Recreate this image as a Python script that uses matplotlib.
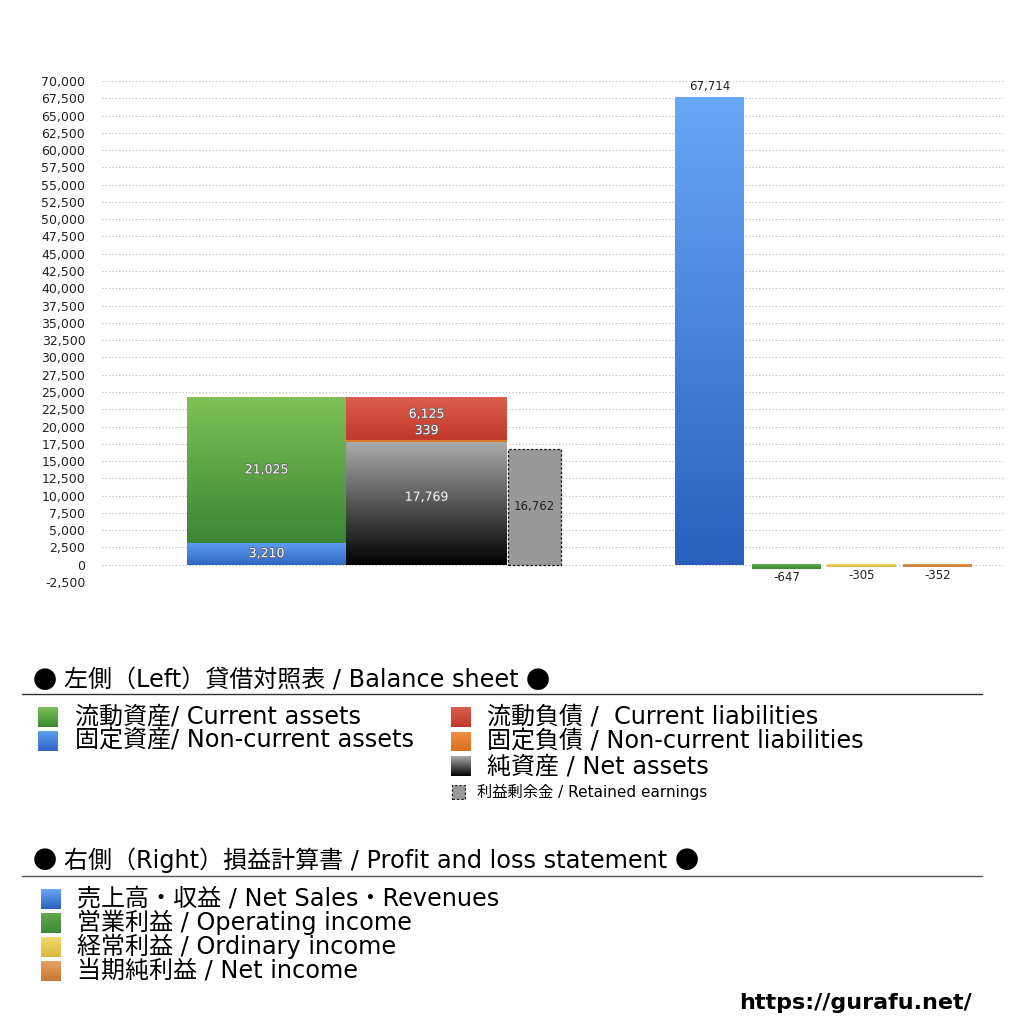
import numpy as np
import matplotlib
matplotlib.use("Agg")
from matplotlib import pyplot as plt
from matplotlib import patheffects as pe
from matplotlib.colors import to_rgb
from matplotlib.patches import Rectangle

plt.rcParams['font.family'] = ['DejaVu Sans', 'Noto Sans CJK JP']

# balance sheet (left)
assets_names = ["流動資産", "固定資産"]
assets_vals = [21025, 3210]
liab_names = ["流動負債", "固定負債", "純資産"]
liab_vals = [6125, 339, 17769]
retained_val = 16762

# profit and loss (right)
pl_names = ["売上高・収益", "営業利益", "経常利益", "当期純利益"]
pl_vals = [67714, -647, -305, -352]

yticks = np.arange(-2500, 70001, 2500)

W, H = 1024, 1024
fig = plt.figure(figsize=(W / 100, H / 100), dpi=100)

ax_l, ax_r, ax_t, ax_b = 102, 1005, 81, 582
ax = fig.add_axes([ax_l / W, 1 - ax_b / H, (ax_r - ax_l) / W, (ax_b - ax_t) / H])
ax.set_xlim(0, ax_r - ax_l)
ax.set_ylim(-2500, 70000)
ax.set_yticks(yticks)
ax.set_yticklabels([f"{v:,}" for v in yticks], fontsize=9, color="#222222")
ax.tick_params(axis="y", length=0, pad=12)
ax.tick_params(axis="x", length=0, labelbottom=False)
for s in ax.spines.values():
    s.set_visible(False)
ax.yaxis.grid(True, linestyle=(0, (1, 2)), color="#bbbbbb", linewidth=0.8)
ax.set_axisbelow(True)


def grad_img(top, bottom, n=600):
    t = np.array(to_rgb(top))
    b = np.array(to_rgb(bottom))
    f = np.linspace(0, 1, n)[:, None]
    return np.repeat((t * (1 - f) + b * f)[:, None, :], 2, axis=1)


def grad_bar(x, y0, w, h, top, bottom, z=2):
    if h < 0:
        y0, h = y0 + h, -h
    ax.imshow(grad_img(top, bottom), extent=(x, x + w, y0, y0 + h),
              origin="upper", aspect="auto", zorder=z,
              interpolation="bilinear")


shadow = [pe.withStroke(linewidth=1.2, foreground="#666666")]


def inner_label(x, y, v, color="white", effects=shadow):
    ax.text(x, y, f"{v:,}", ha="center", va="center", fontsize=9,
            color=color, path_effects=effects, zorder=5)


# left bar positions (layout)
xa, wa = 85, 159
xl, wl = 244, 161
xr, wr = 406, 53

# assets: fixed at bottom, current on top
fixed, current = assets_vals[1], assets_vals[0]
grad_bar(xa, 0, wa, fixed, "#5e9ff0", "#2f66c4")
grad_bar(xa, fixed, wa, current, "#7fc157", "#3b8635")
inner_label(xa + wa / 2, fixed / 2, fixed)
inner_label(xa + wa / 2, fixed + current / 2, current)

# liabilities: net assets bottom, non-current, current on top
cur_l, noncur_l, net = liab_vals
grad_bar(xl, 0, wl, net, "#ababab", "#000000")
grad_bar(xl, net, wl, noncur_l, "#f09040", "#d87020")
grad_bar(xl, net + noncur_l, wl, cur_l, "#dc5e4e", "#c0392b")
inner_label(xl + wl / 2, net * 0.55, net, color="#f4f4f4")
inner_label(xl + wl / 2, net + noncur_l + 1300, noncur_l)
inner_label(xl + wl / 2, net + noncur_l + cur_l * 0.6, cur_l)

# retained earnings
ax.add_patch(Rectangle((xr, 0), wr, retained_val, facecolor="#999999",
                       edgecolor="#111111", linestyle=(0, (2, 1.5)),
                       linewidth=0.9, zorder=3))
ax.text(xr + wr / 2, retained_val / 2, f"{retained_val:,}", ha="center",
        va="center", fontsize=8.5, color="#222222", zorder=5)

# profit and loss bars
pl_x = [573, 650, 725, 801]
pl_w = 69
pl_cols = [("#68a8f6", "#2a5fbd"), ("#62a84e", "#3a8a35"),
           ("#f2dc70", "#d8b840"), ("#e8a060", "#c87838")]
for x, v, (c1, c2) in zip(pl_x, pl_vals, pl_cols):
    grad_bar(x, 0, pl_w, v, c1, c2)
    if v > 0:
        ax.text(x + pl_w / 2, v + 500, f"{v:,}", ha="center", va="bottom",
                fontsize=8.5, color="#222222")
    else:
        ax.text(x + pl_w / 2, v - 300, f"{v:,}", ha="center", va="top",
                fontsize=8.5, color="#222222")


# legends
def fy(py):
    return 1 - py / H


def fx(px):
    return px / W


def swatch(px, py, top, bottom, size=20, dashed=False):
    a = fig.add_axes([fx(px), fy(py + size / 2), size / W, size / H])
    a.set_axis_off()
    if dashed:
        a.add_patch(Rectangle((0.05, 0.05), 0.9, 0.9, facecolor="#999999",
                              edgecolor="#222222", linestyle=(0, (2, 1.5)),
                              linewidth=0.9))
        a.set_xlim(0, 1)
        a.set_ylim(0, 1)
    else:
        a.imshow(grad_img(top, bottom, 100), extent=(0, 1, 0, 1),
                 aspect="auto", interpolation="bilinear")


big = 17.3
renderer = fig.canvas.get_renderer()


def heading(px, py, body):
    # big CJK bullets around the heading text, on a shared baseline
    yb = fy(py + 8)
    t1 = fig.text(fx(px), yb, "●", fontsize=big, va="baseline", ha="left",
                  family=["Noto Sans CJK JP"])
    x = t1.get_window_extent(renderer).x1 + 7
    t2 = fig.text(x / W, yb, body, fontsize=big, va="baseline", ha="left")
    x = t2.get_window_extent(renderer).x1 + 7
    fig.text(x / W, yb, "●", fontsize=big, va="baseline", ha="left",
             family=["Noto Sans CJK JP"])


def label(px, py, s, size=big):
    fig.text(fx(px), fy(py + 7), s, fontsize=size, va="baseline", ha="left")


heading(33, 680, "左側（Left）貸借対照表 / Balance sheet")
fig.add_artist(plt.Line2D([fx(22), fx(982)], [fy(694), fy(694)],
                          color="#333333", linewidth=1))

left_items = [("流動資産/ Current assets", "#7fc157", "#3b8635"),
              ("固定資産/ Non-current assets", "#5e9ff0", "#2f66c4")]
for i, (lab, c1, c2) in enumerate(left_items):
    py = 717 + 24 * i
    swatch(38, py, c1, c2)
    label(75, py, lab)

right_items = [("流動負債 /  Current liabilities", "#dc5e4e", "#c0392b"),
               ("固定負債 / Non-current liabilities", "#f09040", "#d87020"),
               ("純資産 / Net assets", "#ababab", "#000000")]
for i, (lab, c1, c2) in enumerate(right_items):
    py = 717 + 24.5 * i
    swatch(451, py, c1, c2)
    label(487, py, lab)
swatch(451, 792, None, None, size=15, dashed=True)
label(477, 792 - 2, "利益剰余金 / Retained earnings", size=11)

heading(33, 860, "右側（Right）損益計算書 / Profit and loss statement")
fig.add_artist(plt.Line2D([fx(22), fx(982)], [fy(876), fy(876)],
                          color="#555555", linewidth=1))

pl_labels = ["売上高・収益 / Net Sales・Revenues",
             "営業利益 / Operating income",
             "経常利益 / Ordinary income",
             "当期純利益 / Net income"]
for i, (lab, (c1, c2)) in enumerate(zip(pl_labels, pl_cols)):
    py = 899 + 24 * i
    swatch(41, py, c1, c2)
    label(77, py, lab)

fig.text(fx(972), fy(1003), "https://gurafu.net/", fontsize=16,
         fontweight="bold", va="center", ha="right")

fig.savefig("out.png", dpi=100)
